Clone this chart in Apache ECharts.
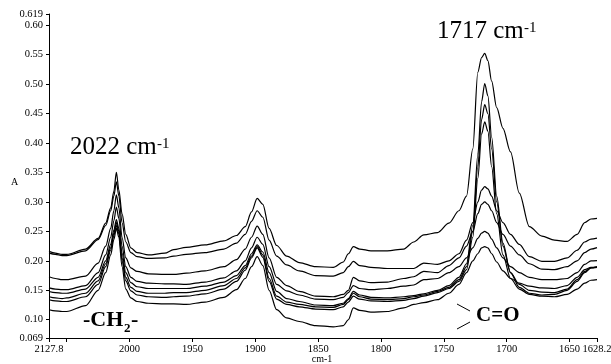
<!DOCTYPE html>
<html>
<head>
<meta charset="utf-8">
<title>IR spectra 2127.8–1628.2 cm-1</title>
<script src="https://cdn.jsdelivr.net/npm/echarts@6/dist/echarts.min.js"></script>
<style>
  html, body { margin: 0; padding: 0; background: #fff; }
  #chart { width: 611px; height: 364px; }
</style>
</head>
<body>
<div id="chart"></div>
<script>
// Wavenumber grid (cm-1) shared by every spectrum
const wavenumbers = [
  2127.8, 2100, 2070, 2050, 2035, 2025, 2019, 2015, 2012.5, 2010.5,
  2008.5, 2006, 2003, 1999, 1994, 1985, 1972, 1965, 1955, 1940,
  1925, 1915, 1908, 1903, 1898.5, 1894, 1889, 1883, 1875, 1865,
  1852, 1838, 1830, 1826, 1822, 1817, 1808, 1795, 1782, 1774,
  1766, 1755, 1746, 1738, 1732, 1727, 1723, 1720, 1717.5, 1715,
  1712, 1708, 1703, 1697, 1690, 1682, 1672, 1662, 1652, 1644,
  1638, 1633, 1628.2
];

// Absorbance of the eight spectra
const spectrum1 = [
  0.216, 0.213, 0.211, 0.211, 0.220, 0.238, 0.264, 0.290, 0.318, 0.350,
  0.320, 0.280, 0.245, 0.222, 0.214, 0.210, 0.213, 0.219, 0.223, 0.227,
  0.234, 0.243, 0.258, 0.283, 0.306, 0.296, 0.255, 0.226, 0.208, 0.197,
  0.190, 0.189, 0.198, 0.212, 0.224, 0.220, 0.217, 0.217, 0.220, 0.232,
  0.244, 0.248, 0.264, 0.285, 0.310, 0.390, 0.520, 0.545, 0.552, 0.540,
  0.505, 0.460, 0.425, 0.385, 0.315, 0.258, 0.242, 0.235, 0.233, 0.245,
  0.265, 0.271, 0.272
];
const spectrum2 = [
  0.213, 0.211, 0.209, 0.209, 0.217, 0.236, 0.260, 0.285, 0.310, 0.334,
  0.310, 0.265, 0.232, 0.214, 0.207, 0.204, 0.205, 0.208, 0.211, 0.214,
  0.220, 0.230, 0.245, 0.267, 0.285, 0.274, 0.235, 0.208, 0.193, 0.183,
  0.175, 0.174, 0.180, 0.190, 0.199, 0.192, 0.189, 0.187, 0.187, 0.187,
  0.196, 0.194, 0.200, 0.212, 0.235, 0.265, 0.300, 0.320, 0.326, 0.322,
  0.310, 0.285, 0.265, 0.245, 0.228, 0.207, 0.199, 0.199, 0.205, 0.218,
  0.232, 0.237, 0.2385
];
const spectrum3 = [
  0.173, 0.170, 0.168, 0.168, 0.174, 0.196, 0.225, 0.255, 0.285, 0.312,
  0.290, 0.240, 0.205, 0.188, 0.182, 0.178, 0.177, 0.177, 0.179, 0.183,
  0.190, 0.202, 0.220, 0.240, 0.259, 0.245, 0.205, 0.172, 0.158, 0.148,
  0.140, 0.139, 0.143, 0.150, 0.172, 0.166, 0.163, 0.164, 0.170, 0.173,
  0.182, 0.180, 0.192, 0.205, 0.225, 0.250, 0.280, 0.296, 0.300, 0.296,
  0.285, 0.265, 0.245, 0.225, 0.210, 0.195, 0.186, 0.185, 0.190, 0.200,
  0.214, 0.220, 0.2225
];
const spectrum4 = [
  0.154, 0.152, 0.151, 0.151, 0.158, 0.180, 0.210, 0.240, 0.268, 0.291,
  0.272, 0.225, 0.190, 0.172, 0.165, 0.162, 0.161, 0.161, 0.160, 0.164,
  0.171, 0.183, 0.200, 0.222, 0.240, 0.228, 0.190, 0.160, 0.149, 0.142,
  0.135, 0.134, 0.138, 0.146, 0.158, 0.153, 0.151, 0.153, 0.157, 0.159,
  0.168, 0.170, 0.180, 0.190, 0.205, 0.222, 0.238, 0.247, 0.250, 0.247,
  0.237, 0.222, 0.205, 0.190, 0.180, 0.172, 0.168, 0.168, 0.170, 0.180,
  0.194, 0.200, 0.2005
];
const spectrum5 = [
  0.148, 0.146, 0.145, 0.145, 0.152, 0.172, 0.200, 0.228, 0.252, 0.270,
  0.255, 0.213, 0.180, 0.163, 0.156, 0.153, 0.153, 0.153, 0.153, 0.157,
  0.164, 0.175, 0.192, 0.212, 0.227, 0.215, 0.180, 0.148, 0.136, 0.131,
  0.125, 0.124, 0.128, 0.136, 0.148, 0.142, 0.138, 0.137, 0.139, 0.141,
  0.144, 0.150, 0.158, 0.172, 0.195, 0.260, 0.380, 0.470, 0.501, 0.480,
  0.410, 0.310, 0.230, 0.180, 0.155, 0.145, 0.142, 0.143, 0.150, 0.165,
  0.180, 0.188, 0.190
];
const spectrum6 = [
  0.139, 0.137, 0.136, 0.137, 0.145, 0.166, 0.195, 0.222, 0.247, 0.265,
  0.250, 0.205, 0.172, 0.155, 0.148, 0.145, 0.145, 0.146, 0.146, 0.150,
  0.158, 0.170, 0.188, 0.208, 0.224, 0.210, 0.170, 0.140, 0.130, 0.126,
  0.122, 0.121, 0.126, 0.134, 0.145, 0.139, 0.135, 0.134, 0.136, 0.139,
  0.142, 0.148, 0.155, 0.168, 0.190, 0.250, 0.360, 0.440, 0.465, 0.450,
  0.390, 0.300, 0.225, 0.180, 0.160, 0.150, 0.147, 0.146, 0.152, 0.168,
  0.182, 0.188, 0.189
];
const spectrum7 = [
  0.134, 0.132, 0.131, 0.131, 0.139, 0.160, 0.190, 0.218, 0.243, 0.260,
  0.246, 0.200, 0.166, 0.149, 0.142, 0.139, 0.138, 0.139, 0.140, 0.144,
  0.152, 0.165, 0.184, 0.205, 0.222, 0.206, 0.165, 0.135, 0.126, 0.122,
  0.118, 0.117, 0.122, 0.130, 0.140, 0.135, 0.132, 0.131, 0.133, 0.136,
  0.140, 0.146, 0.153, 0.165, 0.185, 0.240, 0.340, 0.415, 0.436, 0.420,
  0.360, 0.280, 0.210, 0.170, 0.152, 0.143, 0.140, 0.139, 0.143, 0.152,
  0.162, 0.167, 0.168
];
const spectrum8 = [
  0.117, 0.115, 0.114, 0.114, 0.124, 0.150, 0.180, 0.210, 0.236, 0.255,
  0.240, 0.190, 0.152, 0.137, 0.131, 0.128, 0.127, 0.127, 0.126, 0.130,
  0.138, 0.151, 0.170, 0.190, 0.207, 0.192, 0.150, 0.117, 0.103, 0.097,
  0.090, 0.088, 0.090, 0.100, 0.120, 0.116, 0.113, 0.114, 0.120, 0.126,
  0.129, 0.134, 0.145, 0.160, 0.180, 0.200, 0.212, 0.222, 0.224, 0.222,
  0.212, 0.198, 0.183, 0.170, 0.162, 0.157, 0.154, 0.153, 0.158, 0.172,
  0.185, 0.189, 0.190
];

// Axis ticks and their labels
const xTickValues = [2127.8, 2000, 1950, 1900, 1850, 1800, 1750, 1700, 1650, 1628.2];
const xTickLabels = ['2127.8', '2000', '1950', '1900', '1850', '1800', '1750', '1700', '1650', '1628.2'];
const xTickMarks  = [2127.8, 2050, 2000, 1950, 1900, 1850, 1800, 1750, 1700, 1650, 1628.2];
const yTickValues = [0.069, 0.10, 0.15, 0.20, 0.25, 0.30, 0.35, 0.40, 0.45, 0.50, 0.55, 0.60, 0.619];
const yTickLabels = ['0.069', '0.10', '0.15', '0.20', '0.25', '0.30', '0.35', '0.40', '0.45', '0.50', '0.55', '0.60', '0.619'];

const spectra = [spectrum1, spectrum2, spectrum3, spectrum4, spectrum5, spectrum6, spectrum7, spectrum8];

// The stretch above 2050 cm-1 is drawn compressed on the wavenumber axis
const BREAK = 2050;
const SQUEEZE = 0.181;
function toAxis(wn) { return wn > BREAK ? BREAK + (wn - BREAK) * SQUEEZE : wn; }

function nearestLabel(v, values, labels) {
  let best = 0;
  for (let i = 1; i < values.length; i++) {
    if (Math.abs(values[i] - v) < Math.abs(values[best] - v)) best = i;
  }
  return labels[best];
}
const xAxisTickPos = xTickValues.map(toAxis);

const SERIF = '"Liberation Serif", "Times New Roman", serif';

const chart = echarts.init(document.getElementById('chart'), null, { renderer: 'canvas' });

chart.setOption({
  animation: false,
  backgroundColor: '#fff',
  grid: {
    left: 49, right: 14, top: 14, bottom: 26,
    containLabel: false,
    outerBoundsMode: 'none'
  },
  xAxis: {
    type: 'value',
    inverse: true,
    min: 1628.2,
    max: toAxis(2127.8),
    splitLine: { show: false },
    axisLine: { onZero: false, lineStyle: { color: '#000', width: 1 } },
    axisTick: {
      show: true, inside: false, length: 4,
      customValues: xTickMarks.map(toAxis),
      lineStyle: { color: '#000', width: 1 }
    },
    axisLabel: {
      customValues: xAxisTickPos,
      margin: 6,
      color: '#000',
      fontFamily: SERIF,
      fontSize: 10.5,
      hideOverlap: false,
      formatter: v => nearestLabel(v, xAxisTickPos, xTickLabels)
    }
  },
  yAxis: {
    type: 'value',
    min: 0.069,
    max: 0.619,
    splitLine: { show: false },
    axisLine: { show: true, onZero: false, lineStyle: { color: '#000', width: 1 } },
    axisTick: {
      show: true, inside: false, length: 3,
      customValues: yTickValues,
      lineStyle: { color: '#000', width: 1 }
    },
    axisLabel: {
      customValues: yTickValues,
      margin: 6,
      color: '#000',
      fontFamily: SERIF,
      fontSize: 10.5,
      hideOverlap: false,
      formatter: v => nearestLabel(v, yTickValues, yTickLabels)
    }
  },
  series: spectra.map((s, k) => ({
    name: 'spectrum' + (k + 1),
    type: 'line',
    data: wavenumbers.map((w, i) => [toAxis(w), s[i]]),
    showSymbol: false,
    smooth: 0.3,
    smoothMonotone: 'x',
    lineStyle: { color: '#000', width: 1.2 },
    z: 2
  })),
  graphic: [
    // axis titles
    { type: 'text', left: 11, top: 177, style: { text: 'A', font: '10px ' + SERIF, fill: '#000' } },
    { type: 'text', x: 322, y: 359, style: { text: 'cm-1', font: '10px ' + SERIF, fill: '#000', align: 'center', verticalAlign: 'middle' } },
    // band annotations
    { type: 'text', x: 70, y: 147, style: { text: '2022 cm', font: '25px ' + SERIF, fill: '#000', align: 'left', verticalAlign: 'middle' } },
    { type: 'text', x: 157, y: 144, style: { text: '-1', font: '15px ' + SERIF, fill: '#000', align: 'left', verticalAlign: 'middle' } },
    { type: 'text', x: 437, y: 31, style: { text: '1717 cm', font: '25px ' + SERIF, fill: '#000', align: 'left', verticalAlign: 'middle' } },
    { type: 'text', x: 524, y: 28, style: { text: '-1', font: '15px ' + SERIF, fill: '#000', align: 'left', verticalAlign: 'middle' } },
    { type: 'text', x: 83, y: 320, style: { text: '-CH', font: 'bold 22px ' + SERIF, fill: '#000', align: 'left', verticalAlign: 'middle' } },
    { type: 'text', x: 124, y: 329, style: { text: '2', font: 'bold 13px ' + SERIF, fill: '#000', align: 'left', verticalAlign: 'middle' } },
    { type: 'text', x: 131, y: 320, style: { text: '-', font: 'bold 22px ' + SERIF, fill: '#000', align: 'left', verticalAlign: 'middle' } },
    { type: 'text', x: 476, y: 316, style: { text: 'C=O', font: 'bold 21px ' + SERIF, fill: '#000', align: 'left', verticalAlign: 'middle' } },
    { type: 'line', shape: { x1: 457, y1: 304, x2: 470, y2: 311 }, style: { stroke: '#000', lineWidth: 1 } },
    { type: 'line', shape: { x1: 457, y1: 329, x2: 470, y2: 322 }, style: { stroke: '#000', lineWidth: 1 } }
  ]
});
</script>
</body>
</html>
